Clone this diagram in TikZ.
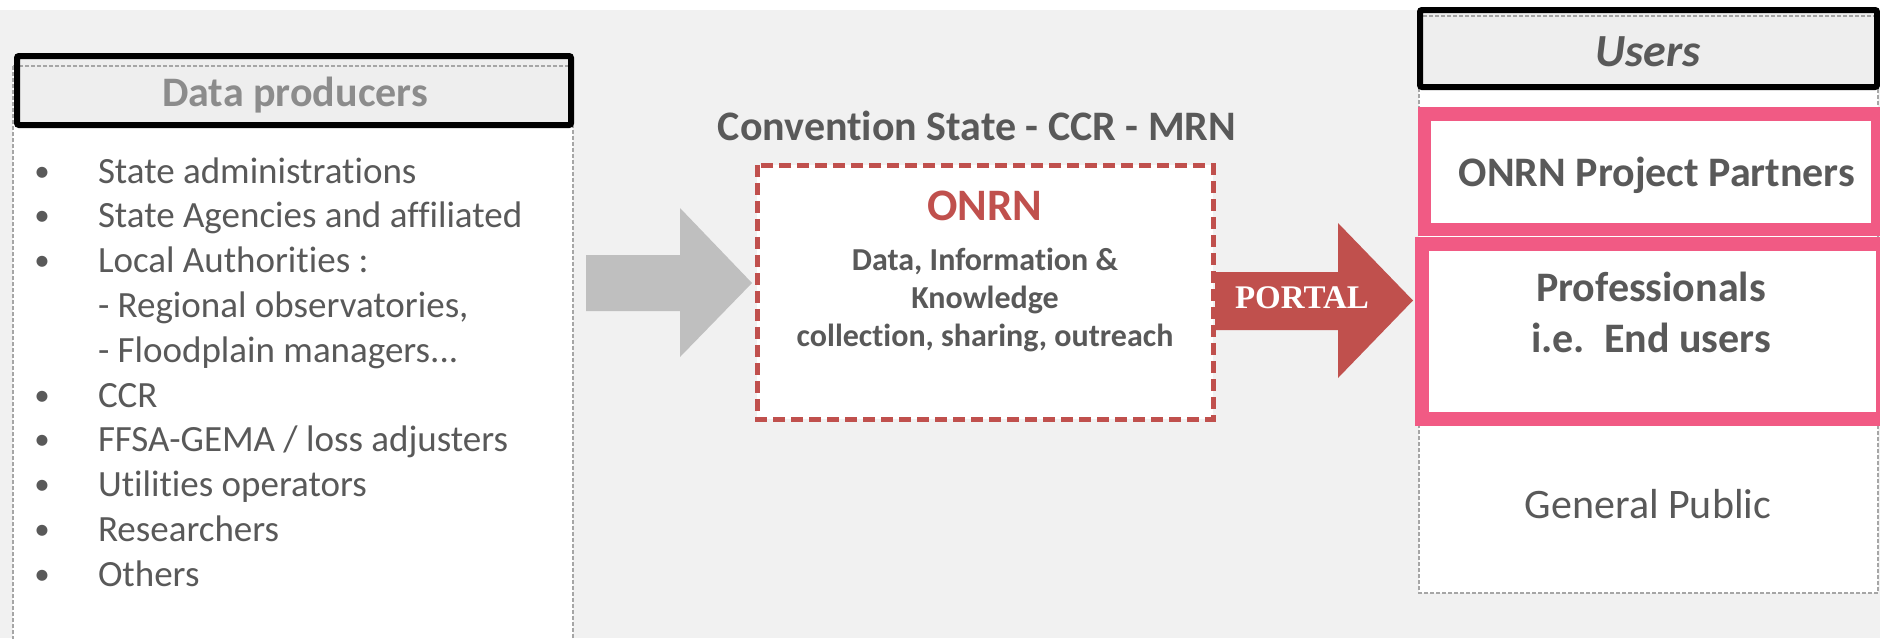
\documentclass[tikz,border=0pt]{standalone}
\usepackage{fontspec}
\setmainfont{Carlito}[Ligatures=NoCommon]
\newfontfamily\portalfont{Liberation Serif}
\definecolor{bgg}{HTML}{F1F1F1}
\definecolor{txt}{HTML}{595959}
\definecolor{hdr}{HTML}{8C8C8C}
\definecolor{hdrfill}{HTML}{EEEEEE}
\definecolor{dashg}{HTML}{A6A6A6}
\definecolor{onrnred}{HTML}{C0504D}
\definecolor{arrg}{HTML}{BFBFBF}
\definecolor{pinkc}{HTML}{F15A84}
\newcommand{\fsz}[1]{\fontsize{#1}{#1}\selectfont}
\begin{document}
\begin{tikzpicture}[x=1pt,y=-1pt,
  tnode/.style={inner sep=0pt, outer sep=0pt, text=txt, anchor=base},
  listitem/.style={tnode, anchor=base west, font=\fsz{37}},
  bulletdot/.style={tnode, font=\fsz{31}},
  graydash/.style={draw=dashg, line width=1.5pt, dash pattern=on 4pt off 2pt},
  blackhdr/.style={draw=black, line width=6pt, rounded corners=2pt},
  pinkbox/.style={draw=pinkc, fill=white},
  reddash/.style={draw=onrnred, line width=5pt, dash pattern=on 12pt off 6pt, fill=white},
  bigbold/.style={tnode, font=\fsz{42}\bfseries},
]
\useasboundingbox (0,0) rectangle (1880,638);
\clip (0,0) rectangle (1880,638);
\fill[bgg] (0,10) rectangle (1880,638);

% ---------- Data producers panel ----------
\fill[white] (13,66) rectangle (573,660);
\fill[hdrfill] (17,56) rectangle (571,125);
\draw[graydash] (13,66) rectangle (573,660);
\draw[blackhdr] (17,56) rectangle (571,125);
\node[tnode, text=hdr, font=\fsz{42}\bfseries] (prodtitle) at (295,106) {Data producers};

\foreach \i/\t in {0/{State administrations}, 1/{State Agencies and affiliated}, 2/{Local Authorities :}, 5/{CCR}, 6/{FFSA-GEMA / loss adjusters}, 7/{Utilities operators}, 8/{Researchers}, 9/{Others}}{
  \node[bulletdot] (b\i) at (42,181+44.8*\i) {•};
  \node[listitem] (l\i) at (98,183+44.8*\i) {\t};
}
\node[listitem] (l3) at (98,183+44.8*3) {- Regional observatories,};
\node[listitem] (l4) at (98,183+44.8*4) {- Floodplain managers...};

% ---------- grey arrow ----------
\fill[arrg] (586,255) -- (680,255) -- (680,208) -- (752,283) -- (680,357) -- (680,311) -- (586,311) -- cycle;

% ---------- ONRN ----------
\node[bigbold] (conv) at (977,140) {Convention State - CCR - MRN};
\draw[reddash] (757,165) rectangle (1213,419);
\node[tnode, text=onrnred, font=\fsz{45}\bfseries] (onrn) at (985,220) {ONRN};
\node[tnode, font=\fsz{32}\bfseries] (d1) at (985,270) {Data, Information \&};
\node[tnode, font=\fsz{32}\bfseries] (d2) at (985,308) {Knowledge};
\node[tnode, font=\fsz{32}\bfseries] (d3) at (985,346) {collection, sharing, outreach};

% ---------- PORTAL arrow ----------
\fill[onrnred] (1215,272) -- (1338,272) -- (1338,223) -- (1413,300.5) -- (1338,378) -- (1338,330) -- (1215,330) -- cycle;
\node[tnode, text=white, font=\fsz{33}\portalfont\bfseries] (portal) at (1302,308) {PORTAL};

% ---------- Users panel ----------
\fill[white] (1419,16) rectangle (1878,593);
\fill[hdrfill] (1420,10) rectangle (1877,87);
\draw[graydash] (1419,16) rectangle (1878,593);
\draw[blackhdr] (1420,10) rectangle (1877,87);
\node[tnode, font=\fsz{46}\bfseries\itshape] (users) at (1648,66) {Users};

\draw[pinkbox, line width=13.5pt] (1424.5,114) rectangle (1877.75,229.5);
\node[bigbold] (partners) at (1657,186) {ONRN Project Partners};
\draw[pinkbox, line width=14pt] (1422,243.5) rectangle (1883,419);
\node[bigbold] (prof1) at (1651,301) {Professionals};
\node[bigbold] (prof2) at (1651,352) {i.e.\ \ End users};
\node[tnode, font=\fsz{42}] (public) at (1648,518) {General Public};
\end{tikzpicture}
\end{document}
